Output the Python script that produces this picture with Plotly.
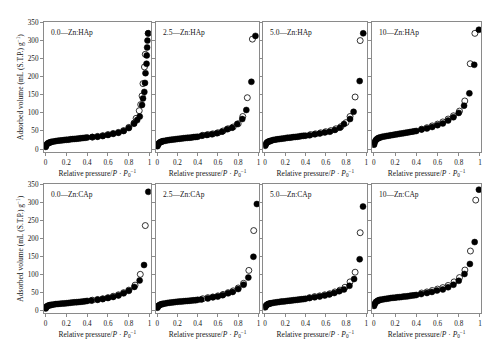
import plotly.graph_objects as go

# ---------------- data ----------------
P_LOW = [0.002, 0.005, 0.01, 0.02, 0.03, 0.04, 0.05, 0.06, 0.08, 0.10, 0.12, 0.14,
         0.16, 0.18, 0.20, 0.22, 0.24, 0.26, 0.28, 0.30, 0.32, 0.34, 0.36, 0.38, 0.40]

PANEL_LABELS = ["0.0—Zn:HAp", "2.5—Zn:HAp", "5.0—Zn:HAp", "10—Zn:HAp",
                "0.0—Zn:CAp", "2.5—Zn:CAp", "5.0—Zn:CAp", "10—Zn:CAp"]

# 0.0 Zn:HAp
hap00_low_v = [6, 9, 12, 15, 17, 18, 19, 20, 21, 22, 23, 23.5, 24, 25, 25.5, 26, 27, 27.5, 28, 28.5, 29, 30, 30.5, 31, 32]
hap00_ads_p = [0.45, 0.50, 0.55, 0.60, 0.65, 0.70, 0.75, 0.80, 0.85, 0.88, 0.905, 0.927, 0.936, 0.949, 0.955, 0.96, 0.97, 0.972, 0.976, 0.979, 0.986]
hap00_ads_v = [33, 34, 36, 39, 42, 45, 50, 58, 70, 80, 90, 122, 140, 158, 183, 210, 236, 259, 281, 300, 320]
hap00_des_p = [0.45, 0.50, 0.55, 0.60, 0.65, 0.70, 0.75, 0.80, 0.85, 0.87, 0.90, 0.914, 0.927, 0.936, 0.950, 0.958, 0.986]
hap00_des_v = [33, 35, 37, 40, 43, 46, 51, 60, 72, 85, 106, 123, 147, 181, 227, 262, 320]

# 2.5 Zn:HAp
hap25_low_v = [8, 11, 14, 17, 19, 20, 21, 22, 23, 24, 25, 26, 26.5, 27, 28, 28.5, 29, 30, 30.5, 31, 31.5, 32, 33, 33.5, 34]
hap25_ads_p = [0.44, 0.49, 0.54, 0.59, 0.64, 0.69, 0.74, 0.79, 0.84, 0.88, 0.93, 0.97]
hap25_ads_v = [37, 39, 41, 44, 48, 55, 59, 69, 83, 108, 186, 313]
hap25_des_p = [0.45, 0.50, 0.55, 0.60, 0.65, 0.70, 0.75, 0.80, 0.845, 0.89, 0.94]
hap25_des_v = [38, 40, 42, 45, 50, 56, 61, 70, 90, 142, 304]

# 5.0 Zn:HAp
hap50_low_v = [9, 12, 15, 18, 20, 21, 22, 23, 25, 26, 27, 27.5, 28.5, 29, 30, 31, 31.5, 32, 33, 33.5, 34, 35, 36, 36.5, 37]
hap50_ads_p = [0.44, 0.49, 0.54, 0.59, 0.64, 0.69, 0.74, 0.78, 0.84, 0.875, 0.935, 0.97]
hap50_ads_v = [38, 41, 43, 46, 48, 53, 59, 69, 83, 103, 188, 320]
hap50_des_p = [0.45, 0.50, 0.55, 0.60, 0.65, 0.70, 0.75, 0.80, 0.84, 0.89, 0.94]
hap50_des_v = [40, 42, 45, 48, 51, 56, 62, 73, 90, 144, 300]

# 10 Zn:HAp
hap10_low_v = [12, 17, 21, 25, 28, 30, 31, 32, 34, 35, 36, 37, 38, 39, 40, 41, 42, 43, 44, 45, 46, 47, 48, 49, 50]
hap10_ads_p = [0.45, 0.50, 0.55, 0.60, 0.65, 0.70, 0.75, 0.80, 0.85, 0.90, 0.946, 0.99]
hap10_ads_v = [54, 57, 61, 66, 71, 79, 88, 100, 120, 154, 233, 330]
hap10_des_p = [0.45, 0.50, 0.55, 0.60, 0.65, 0.70, 0.75, 0.807, 0.857, 0.908, 0.952]
hap10_des_v = [55, 59, 64, 69, 75, 83, 92, 105, 133, 236, 320]

# 0.0 Zn:CAp
cap00_low_v = [5, 8, 10, 12, 13, 14, 14.5, 15, 16, 17, 17.5, 18, 18.5, 19, 19.5, 20, 21, 21.5, 22, 22.5, 23, 23.5, 24, 25, 26]
cap00_ads_p = [0.44, 0.50, 0.55, 0.60, 0.65, 0.70, 0.75, 0.80, 0.853, 0.904, 0.946, 0.987]
cap00_ads_v = [27, 29, 31, 34, 37, 41, 47, 54, 65, 83, 126, 330]
cap00_des_p = [0.45, 0.50, 0.55, 0.60, 0.65, 0.70, 0.75, 0.80, 0.86, 0.91, 0.958]
cap00_des_v = [28, 30, 32, 35, 39, 43, 49, 56, 70, 100, 236]

# 2.5 Zn:CAp
cap25_low_v = [7, 10, 12, 14, 15.5, 16.5, 17, 18, 19, 20, 21, 21.5, 22, 23, 23.5, 24, 24.5, 25, 25.5, 26, 26.5, 27, 27.5, 28, 29]
cap25_ads_p = [0.435, 0.50, 0.55, 0.598, 0.647, 0.70, 0.745, 0.80, 0.853, 0.90, 0.95, 0.984]
cap25_ads_v = [30, 33, 36, 38, 42, 47, 51, 59, 71, 91, 149, 296]
cap25_des_p = [0.45, 0.50, 0.55, 0.60, 0.65, 0.70, 0.75, 0.80, 0.853, 0.905, 0.953]
cap25_des_v = [32, 35, 37, 40, 44, 49, 54, 62, 75, 111, 222]

# 5.0 Zn:CAp
cap50_low_v = [8, 11, 13, 15, 17, 18, 19, 19.5, 20.5, 21.5, 22.5, 23, 24, 24.5, 25, 26, 26.5, 27, 28, 28.5, 29, 30, 30.5, 31, 32]
cap50_ads_p = [0.44, 0.49, 0.54, 0.59, 0.635, 0.684, 0.733, 0.78, 0.834, 0.88, 0.935, 0.968]
cap50_ads_v = [34, 36, 38, 41, 44, 48, 53, 58, 68, 87, 142, 289]
cap50_des_p = [0.44, 0.49, 0.54, 0.59, 0.64, 0.69, 0.74, 0.79, 0.84, 0.89, 0.94]
cap50_des_v = [35, 38, 40, 43, 46, 51, 56, 64, 79, 106, 216]

# 10 Zn:CAp
cap10_low_v = [12, 16, 19, 23, 25, 27, 28, 29, 30, 31, 32, 33, 34, 34.5, 35, 36, 36.5, 37, 38, 38.5, 39, 40, 41, 41.5, 42.5]
cap10_ads_p = [0.446, 0.50, 0.547, 0.595, 0.65, 0.70, 0.75, 0.80, 0.854, 0.905, 0.95, 0.99]
cap10_ads_v = [45, 48, 51, 55, 58, 64, 71, 82, 101, 129, 190, 336]
cap10_des_p = [0.45, 0.50, 0.55, 0.60, 0.65, 0.70, 0.756, 0.807, 0.858, 0.91, 0.96]
cap10_des_v = [48, 51, 55, 59, 63, 69, 79, 91, 112, 165, 307]

Y_TICKS = [0, 50, 100, 150, 200, 250, 300, 350]
X_TICKS = [0, 0.2, 0.4, 0.6, 0.8, 1]
X_TICK_TEXT = ["0", "0.2", "0.4", "0.6", "0.8", "1"]

panels = [
    (hap00_low_v, hap00_ads_p, hap00_ads_v, hap00_des_p, hap00_des_v),
    (hap25_low_v, hap25_ads_p, hap25_ads_v, hap25_des_p, hap25_des_v),
    (hap50_low_v, hap50_ads_p, hap50_ads_v, hap50_des_p, hap50_des_v),
    (hap10_low_v, hap10_ads_p, hap10_ads_v, hap10_des_p, hap10_des_v),
    (cap00_low_v, cap00_ads_p, cap00_ads_v, cap00_des_p, cap00_des_v),
    (cap25_low_v, cap25_ads_p, cap25_ads_v, cap25_des_p, cap25_des_v),
    (cap50_low_v, cap50_ads_p, cap50_ads_v, cap50_des_p, cap50_des_v),
    (cap10_low_v, cap10_ads_p, cap10_ads_v, cap10_des_p, cap10_des_v),
]

# ---------------- layout geometry (pixels) ----------------
W, H = 500, 354
COL_PX = [(44, 151), (156, 260), (264, 368), (373, 482)]
ROW_PX = [(19, 151), (183, 314)]
FONT = "Liberation Serif, Times New Roman, serif"
AXC = "#8a8a8a"
TXT = "#161616"

fig = go.Figure()
layout = dict(width=W, height=H, margin=dict(l=0, r=0, t=0, b=0),
              paper_bgcolor="white", plot_bgcolor="white", showlegend=False,
              font=dict(family=FONT, size=7, color=TXT))
annotations = []

for i, (low_v, ap, av, dp, dv) in enumerate(panels):
    r, c = divmod(i, 4)
    n = i + 1
    xa = "x" if n == 1 else f"x{n}"
    ya = "y" if n == 1 else f"y{n}"
    xkey = "xaxis" if n == 1 else f"xaxis{n}"
    ykey = "yaxis" if n == 1 else f"yaxis{n}"
    x0, x1 = COL_PX[c]
    y0, y1 = ROW_PX[r]
    layout[xkey] = dict(domain=[x0 / W, x1 / W], anchor=ya, range=[-0.015, 1.01],
                        tickvals=X_TICKS, ticktext=X_TICK_TEXT, ticks="outside",
                        ticklen=3, tickwidth=0.8, tickcolor=AXC,
                        showline=True, linecolor=AXC, linewidth=1, mirror=True,
                        showgrid=False, zeroline=False,
                        tickfont=dict(family=FONT, size=7.2, color=TXT),
                        title=dict(text="Relative pressure/<i>P</i> · <i>P</i><sub>0</sub><sup>−1</sup>",
                                   font=dict(family=FONT, size=7.5, color=TXT), standoff=4))
    layout[ykey] = dict(domain=[1 - y1 / H, 1 - y0 / H], anchor=xa, range=[-9, 352],
                        tickvals=Y_TICKS, ticks="outside", ticklen=3, tickwidth=0.8,
                        tickcolor=AXC, showline=True, linecolor=AXC, linewidth=1,
                        mirror=True, showgrid=False, zeroline=False,
                        showticklabels=(c == 0),
                        tickfont=dict(family=FONT, size=7.2, color=TXT))
    # desorption (open circles)
    fig.add_trace(go.Scatter(x=dp, y=dv, xaxis=xa, yaxis=ya, mode="markers",
                             marker=dict(symbol="circle", size=6, color="white",
                                         line=dict(color="black", width=0.8))))
    # adsorption (filled circles)
    fig.add_trace(go.Scatter(x=P_LOW + ap, y=low_v + av, xaxis=xa, yaxis=ya, mode="markers",
                             marker=dict(symbol="circle", size=6, color="black",
                                         line=dict(color="black", width=0.5))))
    annotations.append(dict(text=PANEL_LABELS[i], xref="paper", yref="paper",
                            x=(x0 + 5) / W, y=1 - (y0 + 4) / H, xanchor="left", yanchor="top",
                            showarrow=False, font=dict(family=FONT, size=7.5, color=TXT)))

for (y0, y1) in ROW_PX:
    annotations.append(dict(text="Adsorbed volume (mL (S.T.P.) g<sup>−1</sup>)",
                            xref="paper", yref="paper", x=20 / W, y=1 - (y0 + y1) / 2 / H,
                            xanchor="center", yanchor="middle", textangle=-90,
                            showarrow=False, font=dict(family=FONT, size=7.5, color=TXT)))

layout["annotations"] = annotations
fig.update_layout(**layout)
fig.write_html("out.html")
